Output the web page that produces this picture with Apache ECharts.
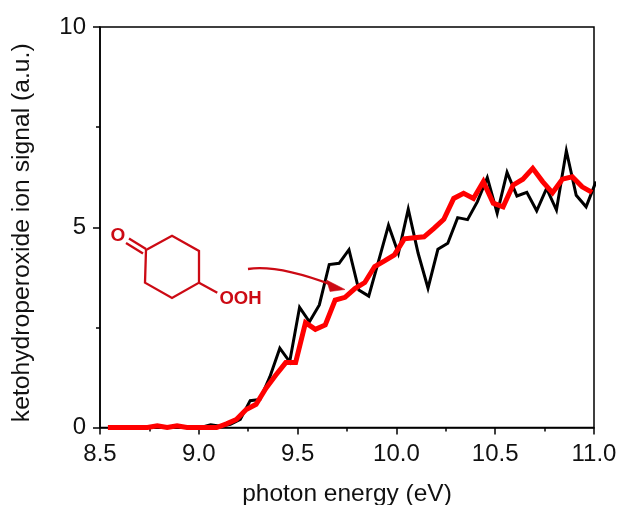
<!DOCTYPE html>
<html><head><meta charset="utf-8">
<style>html,body{margin:0;padding:0;background:#fff}#c{width:620px;height:505px}</style>
<script src="https://cdn.jsdelivr.net/npm/echarts@6/dist/echarts.min.js"></script>
</head><body><div id="c"></div>
<script>
const blackEnergy = [8.56,8.61,8.66,8.71,8.76,8.81,8.86,8.91,8.96,9.01,9.06,9.11,9.16,9.21,9.26,9.31,9.36,9.41,9.46,9.51,9.56,9.61,9.66,9.71,9.76,9.81,9.86,9.91,9.96,10.01,10.06,10.11,10.16,10.21,10.26,10.31,10.36,10.41,10.46,10.51,10.56,10.61,10.66,10.71,10.76,10.81,10.86,10.91,10.96,11.01];
const blackSignal = [0,0,0,0,0,0,0,0,0,0,0.07,0.03,0.08,0.2,0.67,0.7,1.27,1.98,1.64,3.0,2.64,3.06,4.07,4.1,4.44,3.43,3.28,4.16,5.05,4.35,5.45,4.35,3.48,4.45,4.6,5.24,5.19,5.64,6.24,5.35,6.37,5.78,5.87,5.41,5.97,5.43,6.91,5.8,5.51,6.14];
const redEnergy = [8.54,8.59,8.64,8.69,8.74,8.79,8.84,8.89,8.94,8.99,9.04,9.09,9.14,9.19,9.24,9.29,9.34,9.39,9.44,9.49,9.54,9.59,9.64,9.69,9.74,9.79,9.84,9.89,9.94,9.99,10.04,10.09,10.14,10.19,10.24,10.29,10.34,10.39,10.44,10.49,10.54,10.59,10.64,10.69,10.74,10.79,10.84,10.89,10.94,10.99];
const redSignal = [0,0,0,0,0,0.04,0,0.04,0,0,0,0,0.09,0.2,0.45,0.58,0.98,1.31,1.62,1.62,2.62,2.45,2.56,3.18,3.25,3.47,3.62,4.02,4.16,4.31,4.71,4.74,4.76,4.97,5.2,5.72,5.85,5.72,6.14,5.6,5.51,6.05,6.2,6.47,6.14,5.86,6.2,6.26,6.01,5.87];
const xTicks = [8.5,9.0,9.5,10.0,10.5,11.0];
const yTicks = [0,5,10];
const xName = 'photon energy (eV)';
const yName = 'ketohydroperoxide ion signal (a.u.)';
const FONT = '"Liberation Sans", Arial, sans-serif';
const MOL = '#cc0a14';
const pairs = (xs, ys) => xs.map((x, i) => [x, ys[i]]);
const chart = echarts.init(document.getElementById('c'), null, {renderer:'canvas'});
const axisLine = {show:true, onZero:false, lineStyle:{color:'#000', width:1.5}};
const axisTick = {show:true, length:7, lineStyle:{color:'#000', width:1.5}};
const minorTick = {show:true, splitNumber:2, length:4, lineStyle:{color:'#000', width:1.5}};
const molLine = (x1,y1,x2,y2) => ({type:'line', shape:{x1,y1,x2,y2}, style:{stroke:MOL, lineWidth:2.3}, z:50});
chart.setOption({
  animation:false,
  backgroundColor:'#fff',
  grid:{left:100, right:26, top:27, bottom:77.5, outerBoundsMode:'none', containLabel:false, show:true, borderColor:'#000', borderWidth:1.5, backgroundColor:'transparent'},
  xAxis:{type:'value', min:xTicks[0], max:xTicks[xTicks.length-1], interval:0.5,
    name:xName, nameLocation:'middle', nameGap:54, nameTextStyle:{fontFamily:FONT, fontSize:24.5, color:'#111'},
    axisLine, axisTick, minorTick, splitLine:{show:false}, minorSplitLine:{show:false},
    axisLabel:{margin:15, fontFamily:FONT, fontSize:24, color:'#111', formatter:v=>v.toFixed(1), hideOverlap:false, showMinLabel:true, showMaxLabel:true}},
  yAxis:{type:'value', min:yTicks[0], max:yTicks[yTicks.length-1], interval:5,
    name:yName, nameLocation:'middle', nameGap:65, nameTextStyle:{fontFamily:FONT, fontSize:24.7, color:'#111', padding:[0,11,0,0]},
    axisLine, axisTick, minorTick, splitLine:{show:false}, minorSplitLine:{show:false},
    axisLabel:{margin:14, fontFamily:FONT, fontSize:24, color:'#111', showMinLabel:true, showMaxLabel:true}},
  series:[
    {type:'line', data:pairs(blackEnergy,blackSignal), symbol:'none', clip:true, lineStyle:{color:'#000', width:3, join:'miter'}, z:3},
    {type:'line', data:pairs(redEnergy,redSignal), symbol:'none', clip:true, lineStyle:{color:'#ff0000', width:5, join:'miter'}, z:4}
  ],
  graphic:[
    {type:'polygon', shape:{points:[[146,250],[172,235.7],[199,251],[199,282.7],[172,298],[145,282.7]]}, style:{fill:'none', stroke:MOL, lineWidth:2.3}, z:50},
    molLine(146,249,129,238.5),
    molLine(143,253.5,126,243),
    molLine(199,282.7,217.3,292.7),
    {type:'text', x:118, y:236, z:50, style:{text:'O', fontFamily:FONT, fontSize:19, fontWeight:'bold', fill:MOL, align:'center', verticalAlign:'middle'}},
    {type:'text', x:240.5, y:298.5, z:50, style:{text:'OOH', fontFamily:FONT, fontSize:18.5, fontWeight:'bold', fill:MOL, align:'center', verticalAlign:'middle'}},
    {type:'bezierCurve', shape:{x1:248,y1:269,cpx1:268,cpy1:266,cpx2:295,cpy2:271,x2:332,y2:285}, style:{fill:'none', stroke:MOL, lineWidth:2.3}, z:50},
    {type:'polygon', shape:{points:[[345,289.5],[326.5,280],[330,291.5]]}, style:{fill:MOL, stroke:MOL, lineWidth:0.5}, z:50}
  ]
});
</script></body></html>
